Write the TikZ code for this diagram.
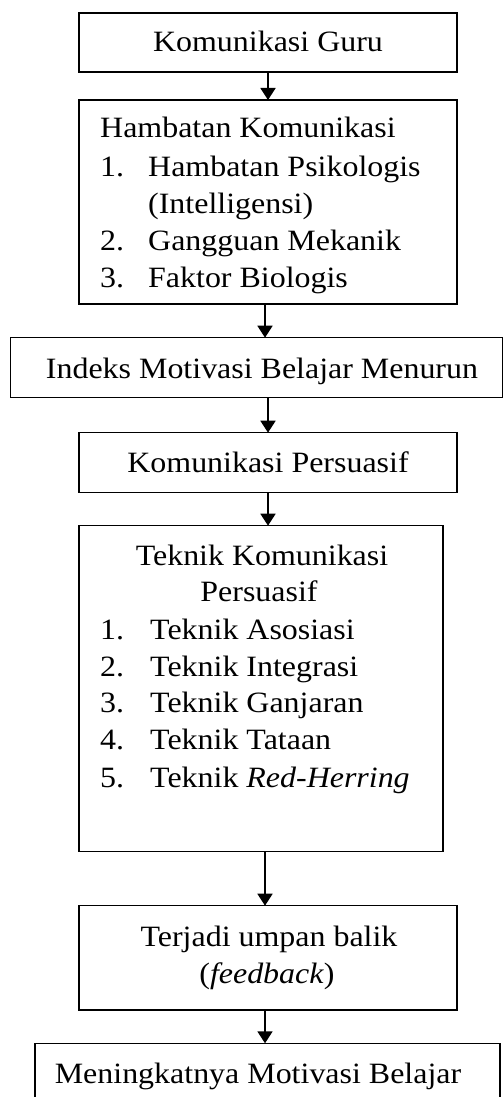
\documentclass[tikz,border=0pt]{standalone}
\usepackage{fontspec}
\setmainfont{Liberation Serif}[FakeStretch=1.083]
\usetikzlibrary{arrows.meta}
\begin{document}
\begin{tikzpicture}[x=1pt,y=-1pt,
  box/.style={draw, line width=1.5pt, inner sep=0pt, outer sep=0pt},
  txt/.style={inner sep=0pt, font=\fontsize{29.5}{37}\selectfont},
  lt/.style={txt, anchor=base west},
  ct/.style={txt, anchor=base},
  arr/.style={line width=1.8pt, -{Triangle[width=15pt,length=12pt]}}]
\useasboundingbox (0,0) rectangle (503,1097);
\clip (0,0) rectangle (503,1097);
\fill[white] (0,0) rectangle (503,1097);
% boxes
\node[box, minimum width=378pt, minimum height=59pt] (b1) at (268,42.5) {};
\node[box, minimum width=378pt, minimum height=204pt] (b2) at (268,202) {};
\node[box, minimum width=492pt, minimum height=60pt] (b3) at (256.7,367.7) {};
\node[box, minimum width=378pt, minimum height=60pt] (b4) at (268,462.7) {};
\node[box, minimum width=364pt, minimum height=326pt] (b5) at (261,688.7) {};
\node[box, minimum width=378pt, minimum height=104.3pt] (b6) at (268,957.85) {};
\node[box, minimum width=465pt, minimum height=77pt] (b7) at (267.5,1081.8) {};
\coordinate (ax) at (265,0);
% texts
\node[ct] (t1) at (268,52) {Komunikasi Guru};
\node[lt] (t2a) at (100,138) {Hambatan Komunikasi};
\node[lt] (t2n1) at (100,176) {1.};
\node[lt] (t2i1) at (148,176) {Hambatan Psikologis};
\node[lt] (t2i1b) at (148,213) {(Intelligensi)};
\node[lt] (t2n2) at (100,250) {2.};
\node[lt] (t2i2) at (148,250) {Gangguan Mekanik};
\node[lt] (t2n3) at (100,287) {3.};
\node[lt] (t2i3) at (148,287) {Faktor Biologis};
\node[ct] (t3) at (262,378) {Indeks Motivasi Belajar Menurun};
\node[ct] (t4) at (268,472) {Komunikasi Persuasif};
\node[ct] (t5a) at (262,565) {Teknik Komunikasi};
\node[ct] (t5b) at (259,601.7) {Persuasif};
\node[lt] (t5n1) at (100,639) {1.};
\node[lt] (t5i1) at (150,639) {Teknik Asosiasi};
\node[lt] (t5n2) at (100,676) {2.};
\node[lt] (t5i2) at (150,676) {Teknik Integrasi};
\node[lt] (t5n3) at (100,712) {3.};
\node[lt] (t5i3) at (150,712) {Teknik Ganjaran};
\node[lt] (t5n4) at (100,749) {4.};
\node[lt] (t5i4) at (150,749) {Teknik Tataan};
\node[lt] (t5n5) at (100,787) {5.};
\node[lt] (t5i5) at (150,787) {Teknik \textit{Red-Herring}};
\node[ct] (t6a) at (269,946) {Terjadi umpan balik};
\node[ct] (t6b) at (267,983) {(\textit{feedback})};
\node[ct] (t7) at (258,1083) {Meningkatnya Motivasi Belajar};
% arrows
\draw[arr] (b1.south) -- (b2.north);
\draw[arr] (b2.south -| ax) -- (b3.north -| ax);
\draw[arr] (b4.north |- b3.south) -- (b4.north);
\draw[arr] (b4.south) -- (b4.south |- b5.north);
\draw[arr] (b5.south -| ax) -- (b6.north -| ax);
\draw[arr] (b6.south -| ax) -- (b7.north -| ax);
\end{tikzpicture}
\end{document}
